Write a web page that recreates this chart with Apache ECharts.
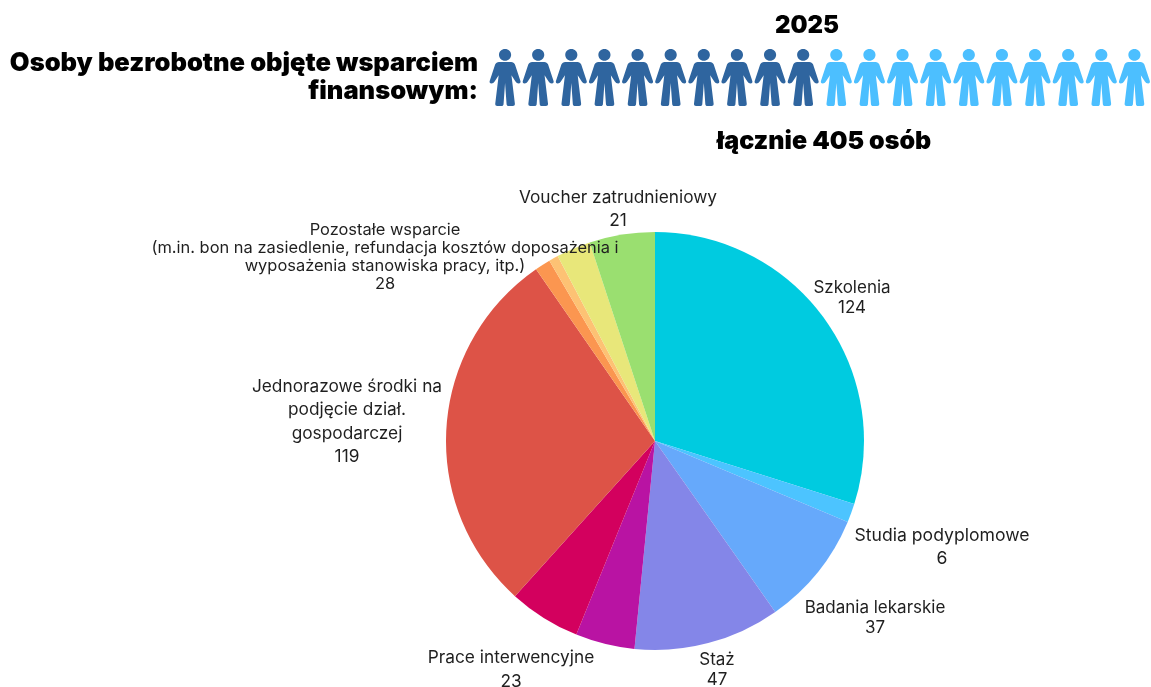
<!DOCTYPE html>
<html><head><meta charset="utf-8">
<style>html,body{margin:0;padding:0;background:#fff}#c{width:1151px;height:687px}</style>
<script src="https://cdn.jsdelivr.net/npm/echarts@6/dist/echarts.min.js"></script>
</head><body><div id="c"></div>
<script>
const sliceNames = ['Szkolenia','Studia podyplomowe','Badania lekarskie','Staż','Fioletowy','Prace interwencyjne','Jednorazowe środki','Pomarańczowy','Jasnopomarańczowy','Żółty','Voucher zatrudnieniowy'];
const sliceValues = [124,6,37,47,19,23,119,5,3,11,21];
const sliceColors = ['#00cbe0','#4cc4ff','#66a9fb','#8486e8','#b913a3','#d3005e','#dd5347','#fb9650','#fdc274','#e8e77a','#9adf70'];
const sliceLabels = ['Szkolenia\n124','Studia podyplomowe\n6','Badania lekarskie\n37','Staż\n47',null,'Prace interwencyjne\n23','Jednorazowe środki na\npodjęcie dział.\ngospodarczej\n119','Pozostałe wsparcie\n(m.in. bon na zasiedlenie, refundacja kosztów doposażenia i\nwyposażenia stanowiska pracy, itp.)\n28',null,null,'Voucher zatrudnieniowy\n21'];
const labelAnchors = [[852,298],[942,547],[875,618],[717,670],null,[511,670],[347,422],[385,257],null,null,[618,209]];
const labelLineHeights = [20,23,20,20,0,24,23.5,18,0,0,23];
const labelFontSizes = [17,17.6,17,17,0,17.3,17.3,16.45,0,0,17.3];
const peopleSlots = ['1','2','3','4','5','6','7','8','9','10','11','12','13','14','15','16','17','18','19','20'];
const peopleColors = ['#2f659f','#4cbfff'];
const personPath = 'path://M155 0C189 0 215 26 215 58C215 92 189 118 155 118C121 118 95 92 95 58C95 26 121 0 155 0ZM95 130L215 130C233 130 245 140 253 155L306 318C312 334 304 346 290 346C276 346 266 338 258 326L218 262L252 548C253 562 244 570 232 570L190 570C178 570 172 562 170 552L155 340L140 552C138 562 132 570 120 570L78 570C66 570 57 562 58 548L92 262L52 326C44 338 34 346 20 346C6 346 -2 334 4 318L57 155C65 140 77 130 95 130Z';

const chart = echarts.init(document.getElementById('c'), null, {renderer:'canvas'});
const ff = 'Inter, "Noto Sans", sans-serif';
const titleBase = {fontFamily:ff, fontWeight:900, color:'#000'};
chart.setOption({
  animation:false,
  backgroundColor:'#fff',
  title:[
    {text:'Osoby bezrobotne objęte wsparciem\nfinansowym:', left:478, top:49, padding:0, textAlign:'right',
      textStyle:{...titleBase, fontSize:25.5, lineHeight:28, align:'right'}},
    {text:'2025', left:807, top:14, padding:0, textAlign:'center', textStyle:{...titleBase, fontSize:24}},
    {text:'łącznie 405 osób', left:824, top:129, padding:0, textAlign:'center', textStyle:{...titleBase, fontSize:25}}
  ],
  grid:{left:488.5, top:49, width:663, height:57, containLabel:false},
  xAxis:{type:'category', data:peopleSlots, show:false},
  yAxis:{type:'value', min:0, max:1, show:false},
  tooltip:{show:false},
  series:[
    {type:'pictorialBar', symbol:personPath, symbolSize:[31,57], symbolPosition:'start',
     data:peopleSlots.map((s,i)=>({value:1, itemStyle:{color:peopleColors[i<10?0:1]}})), silent:true},
    {type:'pie', center:[655,441], radius:209, startAngle:90, clockwise:true, silent:true,
     label:{show:true, position:'outside', overflow:'none', bleedMargin:0, edgeDistance:0}, labelLine:{show:false},
     data:sliceNames.map((n,i)=>({
       name:n, value:sliceValues[i], itemStyle:{color:sliceColors[i]},
       label: sliceLabels[i] ? {show:true, overflow:'none', width:700, formatter:sliceLabels[i], fontFamily:ff, fontSize:labelFontSizes[i], color:'#1f1f1f', align:'center', lineHeight:labelLineHeights[i]} : {show:false},
       labelLine:{show:false}
     })),
     labelLayout:(p)=>{const a=labelAnchors[p.dataIndex]; return a?{x:a[0],y:a[1],align:'center',verticalAlign:'middle',hideOverlap:false}:{};}
    }
  ]
});
</script></body></html>
